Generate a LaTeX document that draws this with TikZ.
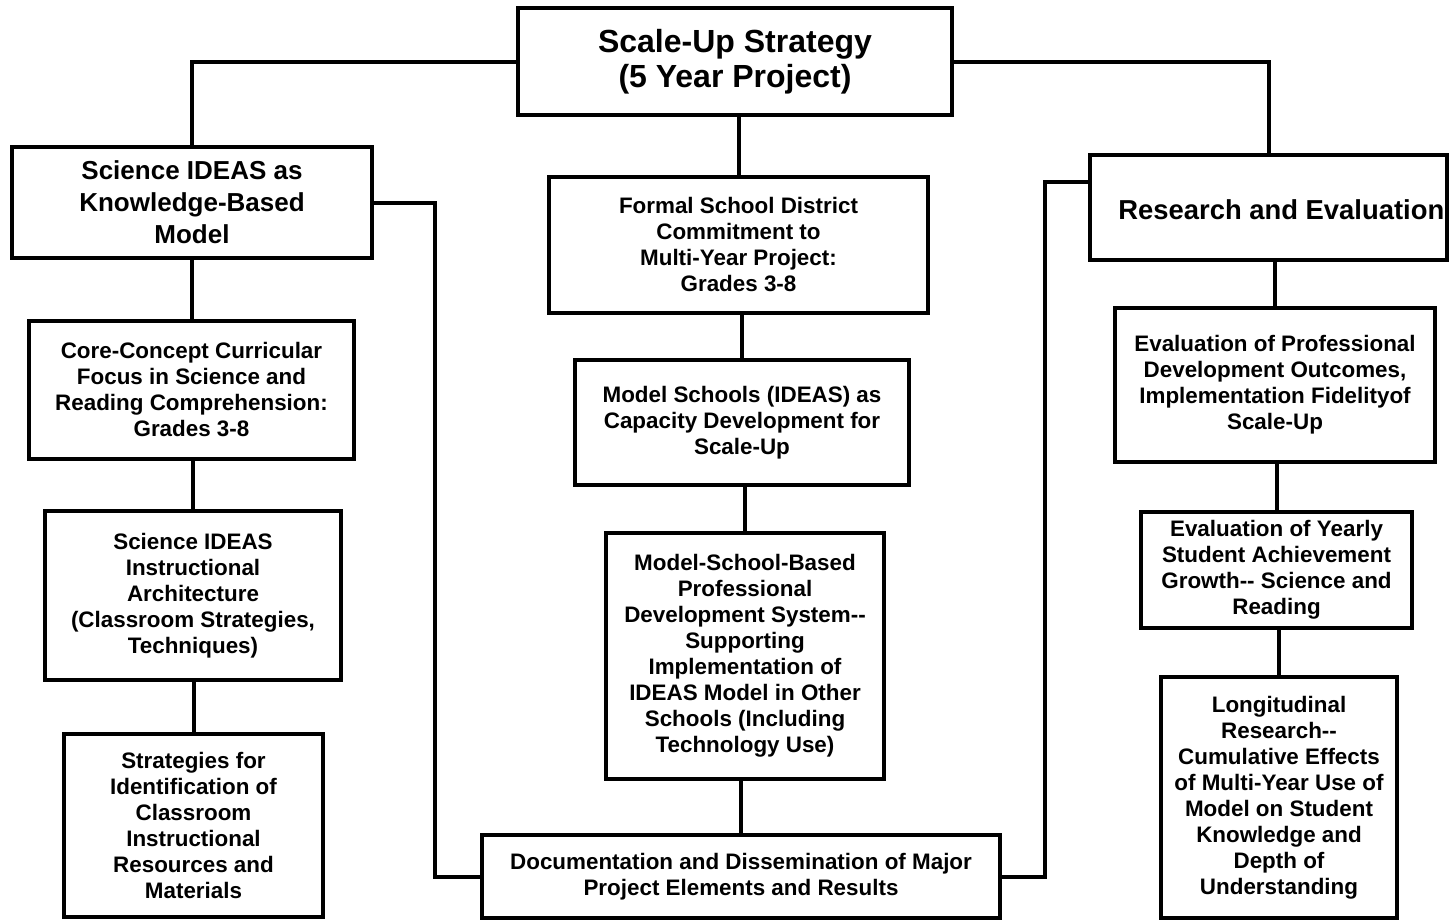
\documentclass[tikz,border=0pt]{standalone}
\usepackage{fontspec}
\setmainfont{Liberation Sans}
\begin{document}
\begin{tikzpicture}[x=0.5pt,y=-0.5pt,
  box/.style={draw, line width=2pt, rectangle, align=center, inner sep=0pt,
    font=\bfseries\fontsize{11.2}{13}\selectfont},
  conn/.style={line width=2pt}]
\useasboundingbox (0,0) rectangle (1450,921);
% boxes
\node[box, minimum width=217pt, minimum height=53.5pt, font=\bfseries\fontsize{16}{17.5}\selectfont] (top) at (735,61.5) {Scale-Up Strategy\\(5 Year Project)};
\node[box, minimum width=180pt, minimum height=55.5pt, font=\bfseries\fontsize{13}{16}\selectfont] (sci) at (192,202.5) {Science IDEAS as\\Knowledge-Based\\Model};
\node[box, minimum width=189.5pt, minimum height=68pt] (formal) at (738.5,244.5) {Formal School District\\Commitment to\\Multi-Year Project:\\Grades 3-8};
\node[box, minimum width=178.5pt, minimum height=52.5pt] (res) at (1268.5,207.5) {};
\node[anchor=west, inner sep=0pt, font=\bfseries\fontsize{13.7}{16}\selectfont] (restext) at (1118,210) {Research and Evaluation};
\node[box, minimum width=162.5pt, minimum height=69pt] (core) at (191.5,390) {Core-Concept Curricular\\Focus in Science and\\Reading Comprehension:\\Grades 3-8};
\node[box, minimum width=167pt, minimum height=62.5pt] (ms) at (742,422.5) {Model Schools (IDEAS) as\\Capacity Development for\\Scale-Up};
\node[box, minimum width=160pt, minimum height=77pt] (evalpd) at (1275,385) {Evaluation of Professional\\Development Outcomes,\\Implementation Fidelityof\\Scale-Up};
\node[box, minimum width=148pt, minimum height=84.5pt] (arch) at (193,595.5) {Science IDEAS\\Instructional\\Architecture\\(Classroom Strategies,\\Techniques)};
\node[box, minimum width=139pt, minimum height=123pt] (msbpd) at (745,656) {Model-School-Based\\Professional\\Development System{-}{-}\\Supporting\\Implementation of\\IDEAS Model in Other\\Schools (Including\\Technology Use)};
\node[box, minimum width=135.5pt, minimum height=58pt] (yearly) at (1276.5,570) {Evaluation of Yearly\\Student Achievement\\Growth{-}{-} Science and\\Reading};
\node[box, minimum width=129.5pt, minimum height=91.5pt] (strat) at (193.5,825.5) {Strategies for\\Identification of\\Classroom\\Instructional\\Resources and\\Materials};
\node[box, minimum width=259pt, minimum height=41.5pt] (doc) at (741,876.5) {Documentation and Dissemination of Major\\Project Elements and Results};
\node[box, minimum width=118pt, minimum height=120.5pt] (longi) at (1279,797.5) {Longitudinal\\Research{-}{-}\\Cumulative Effects\\of Multi-Year Use of\\Model on Student\\Knowledge and\\Depth of\\Understanding};
% helper coordinates
\coordinate (lx) at (435,205);
\coordinate (rx) at (1045,182);
% connectors
\draw[conn] (top.west) -| (sci.north);
\draw[conn] (top.east) -| (res.north);
\draw[conn] (formal.north) -- (formal.north |- top.south);
\draw[conn] (core.north) -- (core.north |- sci.south);
\draw[conn] (arch.north) -- (arch.north |- core.south);
\draw[conn] (strat.north) -- (strat.north |- arch.south);
\draw[conn] (ms.north) -- (ms.north |- formal.south);
\draw[conn] (msbpd.north) -- (msbpd.north |- ms.south);
\draw[conn] (doc.north) -- (doc.north |- msbpd.south);
\draw[conn] (evalpd.north) -- (evalpd.north |- res.south);
\draw[conn] (yearly.north) -- (yearly.north |- evalpd.south);
\draw[conn] (longi.north) -- (longi.north |- yearly.south);
\draw[conn] (sci.east) -| (lx |- doc.west) -- (doc.west);
\draw[conn] (doc.east) -| (rx) -- (rx -| res.west);
\end{tikzpicture}
\end{document}
